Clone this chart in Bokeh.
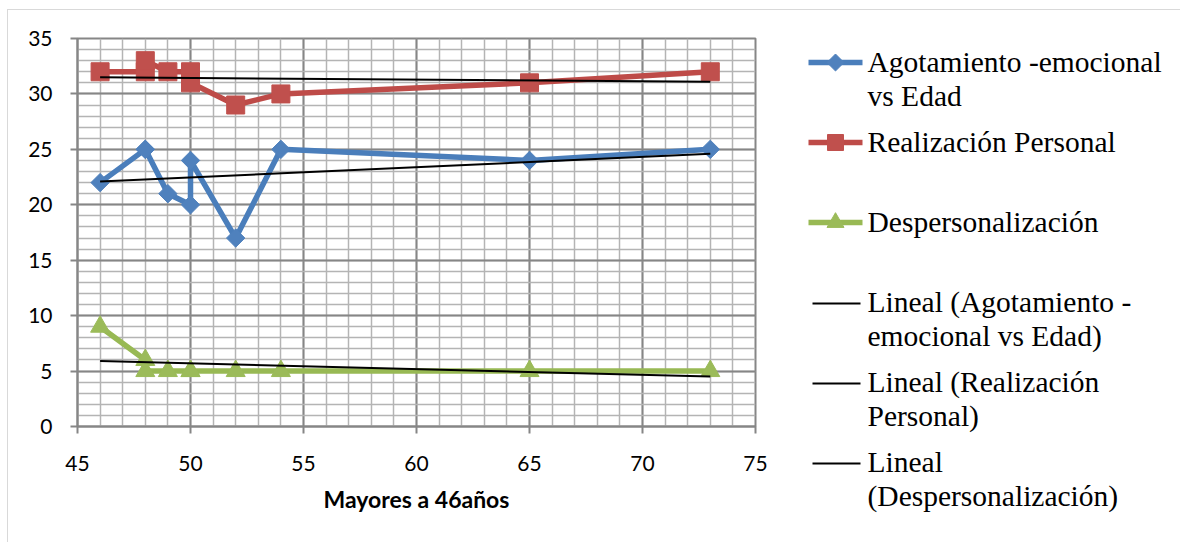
import numpy as np
from bokeh.plotting import figure
from bokeh.models import Range1d, FixedTicker
from bokeh.layouts import row
from bokeh.embed import file_html
from bokeh.resources import INLINE
from bokeh.core.properties import value

# ---- data ----
edad = [46, 48, 48, 49, 50, 50, 52, 54, 65, 73]
agotamiento = [22, 25, 25, 21, 20, 24, 17, 25, 24, 25]
realizacion = [32, 32, 33, 32, 32, 31, 29, 30, 31, 32]
despersonalizacion = [9, 6, 5, 5, 5, 5, 5, 5, 5, 5]

# linear trend lines (end points)
trend_x = [46, 73]
trend_agotamiento = [22.1, 24.6]
trend_realizacion = [31.5, 31.1]
trend_despersonalizacion = [5.9, 4.5]

x_ticks = [45, 50, 55, 60, 65, 70, 75]
y_ticks = [0, 5, 10, 15, 20, 25, 30, 35]
x_minor = list(range(45, 76))
y_minor = list(range(0, 36))
x_title = "Mayores a 46años"

series_labels = ["Agotamiento -emocional\nvs Edad", "Realización Personal", "Despersonalización"]
trend_labels = ["Lineal (Agotamiento -\nemocional vs Edad)", "Lineal (Realización\nPersonal)", "Lineal\n(Despersonalización)"]

BLUE_L, BLUE_F = "#4A7EBB", "#4F81BD"
RED_L, RED_F = "#BE4B48", "#C0504D"
GREEN_L, GREEN_F = "#98B954", "#9BBB59"
MAJOR = "#868686"
MINOR = "#b4b4b4"

# ---- main chart ----
p = figure(width=772, height=532, x_range=Range1d(45, 75), y_range=Range1d(0, 35),
           output_backend="svg", toolbar_location=None,
           min_border_left=69, min_border_right=25, min_border_top=28, min_border_bottom=116)
p.frame_align = False
p.background_fill_color = "white"
p.border_fill_color = "white"
p.outline_line_color = MAJOR
p.outline_line_width = 2

p.xaxis.ticker = FixedTicker(ticks=x_ticks, minor_ticks=x_minor)
p.yaxis.ticker = FixedTicker(ticks=y_ticks, minor_ticks=y_minor)
for g in (p.xgrid, p.ygrid):
    g.grid_line_color = MAJOR
    g.grid_line_width = 2
    g.minor_grid_line_color = MINOR
    g.minor_grid_line_width = 1.5

p.axis.axis_line_color = MAJOR
p.axis.axis_line_width = 2
p.axis.major_tick_line_color = MAJOR
p.axis.major_tick_line_width = 2
p.axis.major_tick_in = 0
p.axis.major_tick_out = 7
p.axis.minor_tick_in = 0
p.axis.minor_tick_out = 0
p.axis.major_label_text_font = "Lato"
p.axis.major_label_text_font_size = "21px"
p.axis.major_label_text_color = "black"
p.xaxis.major_label_standoff = 22
p.yaxis.major_label_standoff = 18
p.xaxis.axis_label = x_title
p.xaxis.axis_label_text_font = "Lato"
p.xaxis.axis_label_text_font_style = "bold"
p.xaxis.axis_label_text_font_size = "23px"
p.xaxis.axis_label_text_color = "black"
p.xaxis.axis_label_standoff = 11

# series
p.line(edad, agotamiento, line_color=BLUE_L, line_width=5.5)
p.scatter(edad, agotamiento, marker="square", angle=np.pi / 4, size=13,
          fill_color=BLUE_F, line_color=BLUE_F)
p.line(edad, realizacion, line_color=RED_L, line_width=5.5)
p.scatter(edad, realizacion, marker="square", size=18, fill_color=RED_F, line_color=RED_F)
p.line(edad, despersonalizacion, line_color=GREEN_L, line_width=5.5)
p.scatter(edad, despersonalizacion, marker="triangle", size=19, fill_color=GREEN_F, line_color=GREEN_F)

# trend lines
for ty in (trend_agotamiento, trend_realizacion, trend_despersonalizacion):
    p.line(trend_x, ty, line_color="black", line_width=2)

# ---- legend panel ----
q = figure(width=400, height=532, x_range=Range1d(780, 1180), y_range=Range1d(542, 10),
           output_backend="svg", toolbar_location=None, min_border=0,
           x_axis_type=None, y_axis_type=None)
q.frame_align = False
q.outline_line_color = None
q.grid.visible = False
q.background_fill_color = "white"
q.border_fill_color = "white"

swatch_y = [62, 142, 222, 303, 383, 463]
first_baseline = [61, 141, 221, 301, 381, 461]
line_gap = 34
styles = [
    dict(lc=BLUE_L, fc=BLUE_F, marker="square", angle=np.pi / 4, size=12),
    dict(lc=RED_L, fc=RED_F, marker="square", angle=0, size=16),
    dict(lc=GREEN_L, fc=GREEN_F, marker="triangle", angle=0, size=17),
]
labels = series_labels + trend_labels
for i, lab in enumerate(labels):
    y = swatch_y[i]
    if i < 3:
        st = styles[i]
        q.line([808, 862], [y, y], line_color=st["lc"], line_width=5.5)
        q.scatter([835], [y], marker=st["marker"], angle=st["angle"], size=st["size"],
                  fill_color=st["fc"], line_color=st["fc"])
    else:
        q.line([812, 860], [y, y], line_color="black", line_width=2)
    parts = lab.split("\n")
    q.text(x=[867] * len(parts), y=[first_baseline[i] + k * line_gap for k in range(len(parts))],
           text=parts, text_font=value("Liberation Serif"), text_font_size="29.5px",
           text_color="black", text_baseline="alphabetic", text_align="left")

layout = row(p, q, margin=(9, 0, 0, 7),
             styles={"border-top": "1px solid #d9d9d9", "border-left": "1px solid #d9d9d9"})

open("out.html", "w").write(file_html(layout, INLINE))
